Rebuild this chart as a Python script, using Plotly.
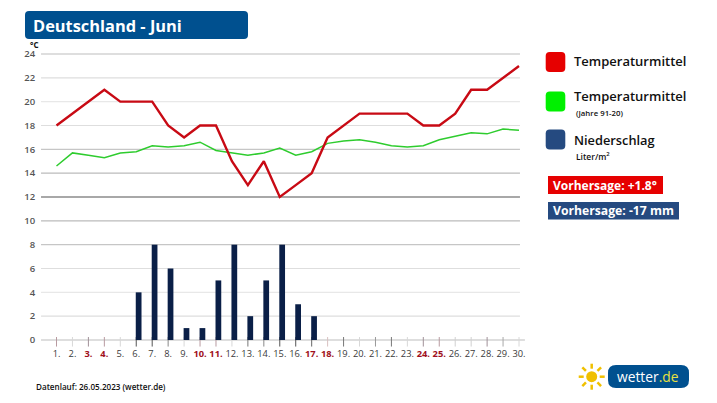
import plotly.graph_objects as go

# data
days = list(range(1, 31))
temp_forecast = [18, 19, 20, 21, 20, 20, 20, 18, 17, 18, 18, 15, 13, 15, 12,
                 13, 14, 17, 18, 19, 19, 19, 19, 18, 18, 19, 21, 21, 22, 23]
temp_normal = [14.6, 15.7, 15.5, 15.3, 15.7, 15.8, 16.3, 16.2, 16.3, 16.6, 15.9, 15.7, 15.5, 15.7, 16.1,
               15.5, 15.8, 16.5, 16.7, 16.8, 16.6, 16.3, 16.2, 16.3, 16.8, 17.1, 17.4, 17.3, 17.7, 17.6]
rain = [0, 0, 0, 0, 0, 4, 8, 6, 1, 1, 5, 8, 2, 5, 8,
        3, 2, 0, 0, 0, 0, 0, 0, 0, 0, 0, 0, 0, 0, 0]
weekend_days = [3, 4, 10, 11, 17, 18, 24, 25]
y_ticks = list(range(0, 25, 2))
grid_colors = ["#bdbdbd", "#dedede", "#e8e8e8", "#dedede", "#c6c6c6", "#bbbbbb", "#a8a8a8",
               "#bbbbbb", "#c6c6c6", "#dedede", "#e8e8e8", "#dedede", "#bdbdbd"]
grid_widths = [1.2, 1.2, 1.2, 1.2, 1.2, 1.2, 2, 1.2, 1.2, 1.2, 1.2, 1.2, 1.2]
tick_colors = ["#b89aa0", "#d8d8d8", "#a09098", "#b89aa0", "#d8d8d8", "#555555", "#555555", "#888888",
               "#d8d8d8", "#b89aa0", "#b89aa0", "#d8d8d8", "#777777", "#888888", "#555555", "#555555",
               "#666666", "#d8c0c0", "#777777", "#d8d8d8", "#999999", "#777777", "#d8d8d8", "#a09098",
               "#b89aa0", "#d0d0d0", "#d0d0d0", "#a09098", "#a8a8a8", "#d8d8d8"]

W, H = 717, 403
FONT = "Open Sans"


def px_x(x):
    return x / W


def px_y(y):
    return 1 - y / H


def round_box(x0, y0, x1, y1, r, color):
    # rounded rectangle given in page pixels
    X = lambda v: round(px_x(v), 5)
    Y = lambda v: round(px_y(v), 5)
    path = (f"M {X(x0 + r)} {Y(y0)} L {X(x1 - r)} {Y(y0)} Q {X(x1)} {Y(y0)} {X(x1)} {Y(y0 + r)} "
            f"L {X(x1)} {Y(y1 - r)} Q {X(x1)} {Y(y1)} {X(x1 - r)} {Y(y1)} "
            f"L {X(x0 + r)} {Y(y1)} Q {X(x0)} {Y(y1)} {X(x0)} {Y(y1 - r)} "
            f"L {X(x0)} {Y(y0 + r)} Q {X(x0)} {Y(y0)} {X(x0 + r)} {Y(y0)} Z")
    return dict(type="path", path=path, xref="paper", yref="paper",
                fillcolor=color, line=dict(width=0), layer="below")


def label(x, y, text, size, color="#111111", weight=600, anchor="left"):
    # annotations carry about 2px of padding, take it off so x is where the text starts
    return dict(x=px_x(x - 2), y=px_y(y), xref="paper", yref="paper", text=text, showarrow=False,
                xanchor=anchor, yanchor="middle", align="left",
                font=dict(family=FONT, size=size, color=color, weight=weight))


tick_text = []
for d in days:
    if d in weekend_days:
        tick_text.append(f'<b><span style="color:#a01020">{d}.</span></b>')
    else:
        tick_text.append(f"{d}.")

fig = go.Figure()
fig.add_trace(go.Bar(x=days, y=rain, width=0.36, offset=-0.03, marker=dict(color="#0a1f47", line=dict(width=0))))
fig.add_trace(go.Scatter(x=days, y=temp_normal, mode="lines", line=dict(color="#2ecc2e", width=1.5)))
fig.add_trace(go.Scatter(x=days, y=temp_forecast, mode="lines", line=dict(color="#c80a14", width=2.4)))

shapes = []
for val, col, wid in zip(y_ticks, grid_colors, grid_widths):
    shapes.append(dict(type="line", xref="x", yref="y", x0=0.03, x1=30.06 if val else 30.37, y0=val, y1=val,
                       line=dict(color=col, width=wid), layer="below"))
for d, col in zip(days, tick_colors):
    shapes.append(dict(type="line", xref="x", yref="y", x0=d, x1=d, y0=-0.55, y1=0.25,
                       line=dict(color=col, width=1), layer="below"))

# title box, legend swatches, forecast boxes, logo
shapes.append(round_box(25, 11, 248, 39, 4, "#00508f"))
shapes.append(round_box(545.7, 52, 565.3, 72, 4, "#e60000"))
shapes.append(round_box(545.7, 91.5, 565.3, 111.5, 4, "#00f000"))
shapes.append(round_box(545.7, 129.5, 565.3, 149.5, 4, "#254a80"))
shapes.append(round_box(548, 176, 663, 194, 0.1, "#e60000"))
shapes.append(round_box(548, 202, 679, 219.5, 0.1, "#254a80"))
shapes.append(round_box(608, 365, 689, 388, 8, "#00508f"))
sun_x, sun_y = 591.7, 376.7
shapes.append(dict(type="circle", xref="paper", yref="paper", x0=px_x(sun_x - 5.5), x1=px_x(sun_x + 5.5),
                   y0=px_y(sun_y - 5.5), y1=px_y(sun_y + 5.5), fillcolor="#f0c000", line=dict(width=0)))
for dx, dy in [(1, 0), (-1, 0), (0, 1), (0, -1), (0.72, 0.72), (-0.72, 0.72), (0.72, -0.72), (-0.72, -0.72)]:
    shapes.append(dict(type="line", xref="paper", yref="paper",
                       x0=px_x(sun_x + 8 * dx), x1=px_x(sun_x + 13 * dx),
                       y0=px_y(sun_y + 8 * dy), y1=px_y(sun_y + 13 * dy),
                       line=dict(color="#f0c000", width=2.5)))

annotations = [
    label(33, 25, "Deutschland - Juni", 16.4, "white", 700),
    label(30, 44.5, "°C", 8, "#111111", 700),
    label(574, 61, "Temperaturmittel", 13),
    label(574, 96, "Temperaturmittel", 13),
    label(575.5, 113, "(Jahre 91-20)", 7.8),
    label(574, 140, "Niederschlag", 12.8),
    label(576, 156, "Liter/m<sup>2</sup>", 8.5),
    label(553, 185, "Vorhersage: +1.8°", 12, "white", 700),
    label(553, 211, "Vorhersage: -17 mm", 12.2, "white", 700),
    label(35.5, 386, "Datenlauf: 26.05.2023 (wetter.de)", 8.1),
    label(617, 376.5, 'wetter<span style="color:#e8e040">.de</span>', 13.8, "white", 400),
]

fig.update_layout(
    width=W,
    height=H,
    autosize=False,
    margin=dict(l=0, r=0, t=0, b=0),
    paper_bgcolor="white",
    plot_bgcolor="white",
    showlegend=False,
    barmode="overlay",
    font=dict(family=FONT),
    shapes=shapes,
    annotations=annotations,
    xaxis=dict(domain=[41 / W, 525 / W], range=[0.028, 30.376], tickmode="array", tickvals=days, ticktext=tick_text,
               showgrid=False, zeroline=False, showline=False, ticks="", automargin=False,
               tickfont=dict(family=FONT, size=9.3, color="#3a3a3a")),
    yaxis=dict(domain=[1 - 347 / H, 1 - 50 / H], range=[-0.587, 24.336], tickmode="array", tickvals=y_ticks,
               showgrid=False, zeroline=False, showline=False, ticks="outside", ticklen=3, tickcolor="white",
               automargin=False,
               tickfont=dict(family=FONT, size=9.5, color="#555555", weight=600)),
)

fig.write_html("out.html", config=dict(displayModeBar=False),
               post_script="document.body.style.margin='0';")
